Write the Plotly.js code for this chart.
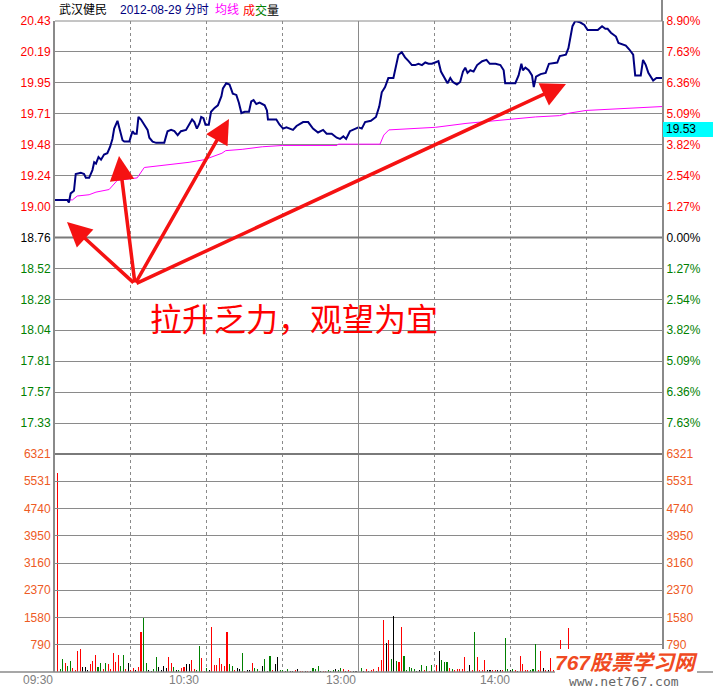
<!DOCTYPE html>
<html>
<head>
<meta charset="utf-8">
<script src="https://cdn.plot.ly/plotly-3.0.1.min.js"></script>
<style>html,body{margin:0;padding:0;background:#fff}#chart{width:713px;height:690px}</style>
</head>
<body>
<div id="chart"></div>
<script>
// ---------------- data ----------------
const stockName = '武汉健民';
const dateLabel = '2012-08-29 分时';
const prevClose = 18.76;
const priceTop = 20.43;
const volMax = 6321;

const priceTimes = [0,4.9,5.5,6.2,7.5,8.2,10.2,11.5,12.2,13.5,14.8,15.5,16.2,17.2,18.2,19.4,20.7,21.8,22.7,23.4,24.7,25.6,26.7,27.4,29.4,30,30.7,31.4,32.3,33,34,35.3,36.6,37.3,38.6,40,43.2,43.9,44.5,45.9,47.2,48.5,49.8,51.8,53.1,54.2,55.1,56.1,57.1,57.8,58.7,59.5,60.8,61.7,63.1,64.4,65.8,66.4,67.7,69,70.3,71.7,72.7,73.7,75,76.7,77.6,78.5,79.6,80.9,82.9,83.8,84.2,87.5,88.8,90.2,91.5,94.1,95.5,98.1,100.1,102,104,106,107.4,109.4,111.4,112.7,114,115.1,116.6,118.6,120,121.3,122.6,124.9,126.9,128.2,129.2,130.5,131.8,133.8,134.9,135.8,137.1,138.4,139.8,141.1,142.4,143.7,145.1,146.4,147.7,149,150.3,151.6,152.6,153.9,155.2,156.3,157.3,158.9,160.2,161.3,162.2,163.1,164.2,165.5,166.9,168.9,170.6,171.9,174.2,176.1,177.4,178,182,183.3,184.4,185,186,187.3,188.6,189.3,190.2,192,194,195.3,198.6,199.6,202,203,203.7,204.6,205.7,207.6,209.3,210.6,214.6,216.3,217.6,218.5,219.8,221.8,222.8,225.7,227.1,228.6,229.4,231.6,232.5,233.6,234.6,236.5,237.8,240];
const prices = [19.05,19.05,19.03,19.10,19.12,19.25,19.26,19.25,19.22,19.22,19.28,19.34,19.33,19.38,19.36,19.40,19.41,19.46,19.52,19.60,19.66,19.59,19.51,19.50,19.50,19.54,19.58,19.56,19.56,19.69,19.67,19.63,19.59,19.53,19.50,19.49,19.49,19.54,19.58,19.59,19.58,19.55,19.58,19.59,19.64,19.67,19.65,19.60,19.64,19.69,19.68,19.63,19.63,19.73,19.76,19.78,19.85,19.91,19.95,19.94,19.87,19.86,19.80,19.72,19.73,19.73,19.81,19.82,19.79,19.80,19.78,19.74,19.67,19.67,19.63,19.60,19.61,19.59,19.62,19.65,19.65,19.60,19.57,19.59,19.56,19.56,19.53,19.52,19.54,19.52,19.58,19.60,19.61,19.60,19.65,19.66,19.69,19.77,19.88,19.92,19.99,19.99,20.08,20.17,20.19,20.15,20.12,20.09,20.09,20.10,20.09,20.11,20.10,20.10,20.11,20.12,20.04,20.00,19.95,19.99,19.96,19.94,19.96,20.04,20.07,20.03,20.05,20.04,20.09,20.12,20.13,20.10,20.10,20.09,20.05,19.95,19.95,20.01,20.10,20.05,20.07,20.05,20.01,19.92,20.00,20.02,20.03,20.10,20.11,20.16,20.17,20.22,20.31,20.39,20.43,20.42,20.40,20.36,20.36,20.39,20.37,20.37,20.34,20.31,20.26,20.24,20.21,20.17,20.01,20.01,20.13,20.09,20.03,19.97,19.99,19.99];

const avgTimes = [0,6.9,8.8,13.5,16.2,21.4,24.6,27.9,32.5,35.3,39.8,45,53,59,62,66,67.5,74,82,90,111.5,112,128.5,130,132,139.8,150.5,162.5,179.6,190,199.5,203.5,210,219.3,240];
const avgPrices = [19.05,19.05,19.08,19.09,19.11,19.13,19.20,19.21,19.22,19.30,19.31,19.32,19.34,19.36,19.38,19.41,19.43,19.44,19.46,19.47,19.47,19.48,19.48,19.55,19.59,19.60,19.61,19.64,19.67,19.69,19.70,19.72,19.74,19.75,19.77];

const volumes = [
 5780,87,377,261,174,319,116,58,609,667,
 145,145,68,232,319,493,145,261,78,261,
 232,100,561,290,493,174,493,87,271,58,
 116,58,145,1160,1576,261,58,39,87,435,
 155,58,174,116,435,261,145,58,58,116,
 145,232,232,348,87,58,754,406,29,106,
 58,1305,203,203,406,232,174,1160,232,174,
 58,116,87,561,29,58,58,261,116,87,
 29,174,377,29,464,58,232,435,58,58,
 29,87,29,29,58,87,29,29,29,29,
 29,116,87,174,29,29,29,58,29,58,
 87,58,116,87,29,58,29,29,29,29,
 116,29,87,29,58,77,29,145,348,1508,
 850,928,377,1624,319,300,1315,464,58,145,
 116,87,29,58,203,58,174,29,203,29,
 203,609,348,300,300,116,87,58,87,87,
 87,445,29,203,58,1160,445,58,58,348,
 58,58,58,58,58,58,58,986,78,58,
 87,58,29,464,232,58,58,58,87,812,
 58,609,116,58,58,406,58,58,100,928,
 150,100,1276,638,150,200,120,90,180,60,
 120,200,90,150,60,240,110,80,170,60,
 140,90,200,120,60,180,150,80,230,120,
 90,160,60,210,110,80,140,60,190,240];
const volDirections = (
 'rggrggrrrr'+'kkkrrrggrg'+'rrrrrggrkr'+'rkrrggkkgg'+'kkkkrrgkgr'+'rkkrrggrrg'+
 'krrrrrrrgg'+'rkkgrkkrgg'+'rkgkgrkkgg'+'kgkkrkrrkr'+'kgggkrrgkg'+'kggrkrrkkr'+
 'gkrkrrkrrr'+'krgkgrrggg'+'ggkkgrgrgk'+'rkgggrgrrr'+'rrgkrgrrrr'+'kkrrkkrggk'+
 'grkrrrrggg'+'rrkrkrrkrr'+'rrrrgrgrrg'+'rgrgkrgrgk'+'grrgkrgrgr'+'grkrgrgkrr').split('');

const priceTickLabels = ['17.33','17.57','17.81','18.04','18.28','18.52','18.76','19.00','19.24','19.48','19.71','19.95','20.19','20.43'];
const pctTickLabels = ['7.63%','6.36%','5.09%','3.82%','2.54%','1.27%','0.00%','1.27%','2.54%','3.82%','5.09%','6.36%','7.63%','8.90%'];
const volTickLabels = ['790','1580','2370','3160','3950','4740','5531','6321'];
const timeLabels = ['09:30','10:30','13:00','14:00'];
const lastPriceLabel = '19.53';
const noteText = '拉升乏力，观望为宜';

// ---------------- layout helpers ----------------
const W = 713, H = 690, L = 55, R = 51, T = 21, B = 18;
const plotW = W - L - R, plotH = H - T - B;
const px = x => (x - L) / plotW;
const py = y => (H - B - y) / plotH;
const split = 218 / plotH;

const RED = '#FF0000', GREEN = '#008000', BLACK = '#000000', VOLC = '#EE5A24', GRID = '#8a8a8a';
const step = (priceTop - prevClose) / 7;
const pLo = prevClose - 7 * step, pHi = prevClose + 7 * step;
const priceTickVals = priceTickLabels.map((_, i) => prevClose + (i - 6) * step);
const tickColor = i => i < 6 ? GREEN : (i === 6 ? BLACK : RED);
const col = (t, c) => '<span style="color:' + c + '">' + t + '</span>';
const volTickVals = volTickLabels.map((_, i) => (i + 1) * volMax / 8);
const dirColor = {r: RED, g: GREEN, k: BLACK};

const tf = {family: 'Liberation Sans, Arial, sans-serif', size: 12};

const traces = [
  {x: avgTimes, y: avgPrices, type: 'scatter', mode: 'lines', xaxis: 'x', yaxis: 'y',
   line: {color: '#FF00FF', width: 1}, hoverinfo: 'skip'},
  {x: priceTimes, y: prices, type: 'scatter', mode: 'lines', xaxis: 'x', yaxis: 'y',
   line: {color: '#000080', width: 2}, hoverinfo: 'skip'},
  {x: volumes.map((_, i) => i + 1), y: volumes, type: 'bar', xaxis: 'x', yaxis: 'y2',
   width: 0.42, marker: {color: volDirections.map(d => dirColor[d]), line: {width: 0}}, hoverinfo: 'skip'},
  {x: [120], y: [prevClose], type: 'scatter', mode: 'markers', xaxis: 'x', yaxis: 'y3',
   marker: {opacity: 0}, hoverinfo: 'skip'},
  {x: [120], y: [1], type: 'scatter', mode: 'markers', xaxis: 'x', yaxis: 'y4',
   marker: {opacity: 0}, hoverinfo: 'skip'}
];

const baseY = {
  showgrid: true, gridcolor: GRID, gridwidth: 1, zeroline: false,
  showline: true, linecolor: GRID, linewidth: 2, mirror: false,
  ticks: 'inside', ticklen: 4, tickcolor: GRID, tickwidth: 1,
  tickfont: tf, tickmode: 'array', fixedrange: true
};

const layout = {
  width: W, height: H, autosize: false,
  margin: {l: L, r: R, t: T, b: B, pad: 0},
  paper_bgcolor: '#ffffff', plot_bgcolor: '#ffffff',
  showlegend: false, bargap: 0,
  xaxis: {range: [0, 240], tickmode: 'array', tickvals: [30, 60, 90, 150, 180, 210],
    showticklabels: false, ticks: '', showgrid: true, gridcolor: GRID, griddash: 'dot', gridwidth: 1,
    zeroline: false, showline: false, fixedrange: true, anchor: 'y2'},
  yaxis: Object.assign({}, baseY, {domain: [split, 1], range: [pLo, pHi], tickvals: priceTickVals,
    ticktext: priceTickLabels.map((t, i) => col(t, tickColor(i))), anchor: 'x'}),
  yaxis3: Object.assign({}, baseY, {overlaying: 'y', side: 'right', range: [pLo, pHi], showgrid: false,
    tickvals: priceTickVals, ticktext: pctTickLabels.map((t, i) => col(t, tickColor(i))), anchor: 'x'}),
  yaxis2: Object.assign({}, baseY, {domain: [0, split], range: [0, volMax], tickvals: volTickVals,
    ticktext: volTickLabels.map(t => col(t, VOLC)), anchor: 'x'}),
  yaxis4: Object.assign({}, baseY, {overlaying: 'y2', side: 'right', range: [0, volMax], showgrid: false,
    tickvals: volTickVals, ticktext: volTickLabels.map(t => col(t, VOLC)), anchor: 'x'}),
  shapes: [
    {type: 'line', xref: 'x', yref: 'paper', x0: 120, x1: 120, y0: 0, y1: 1, line: {color: GRID, width: 1}},
    {type: 'line', xref: 'paper', yref: 'y', x0: 0, x1: 1, y0: prevClose, y1: prevClose, line: {color: '#7a7a7a', width: 2}},
    {type: 'line', xref: 'paper', yref: 'paper', x0: 0, x1: 1, y0: split, y1: split, line: {color: '#7a7a7a', width: 2}},
    {type: 'line', xref: 'paper', yref: 'paper', x0: 0, x1: 1, y0: 1, y1: 1, line: {color: GRID, width: 1}},
    {type: 'line', xref: 'paper', yref: 'paper', x0: px(662), x1: px(662), y0: 1, y1: py(0), line: {color: GRID, width: 2}},
    {type: 'line', xref: 'paper', yref: 'paper', x0: px(0), x1: px(713), y0: 0, y1: 0, line: {color: GRID, width: 1.5}},
    {type: 'rect', xref: 'paper', yref: 'paper', x0: px(663), x1: px(713), y0: py(137), y1: py(122),
     fillcolor: '#00FFFF', line: {width: 0}},
    {type: 'rect', xref: 'paper', yref: 'paper', layer: 'above', x0: px(555), x1: px(697), y0: py(690), y1: py(649),
     fillcolor: '#ffffff', line: {width: 0}}
  ],
  annotations: []
};

const A = layout.annotations;
const hdrFont = {family: 'Liberation Sans, Noto Sans CJK SC, sans-serif', size: 12};
const addText = (text, x, y, xanchor, font) => A.push({text, x: px(x), y: py(y), xref: 'paper', yref: 'paper',
  xanchor, yanchor: 'middle', showarrow: false, font, align: 'left'});

addText(col(stockName, BLACK), 57, 10, 'left', hdrFont);
addText(col(dateLabel, '#000080'), 118, 10, 'left', hdrFont);
addText(col('均线', '#FF00FF'), 213, 10, 'left', hdrFont);
addText(col('成', RED) + col('交', GREEN) + col('量', BLACK), 241, 10, 'left', hdrFont);

const timeRight = [55, 201, 358, 512];
timeLabels.forEach((t, i) => addText(col(t, '#808080'), timeRight[i], 680, 'right', tf));

addText(col(lastPriceLabel, BLACK), 664, 129.5, 'left', tf);

addText(col(noteText, RED), 294, 317, 'center', {family: 'Noto Sans CJK SC, sans-serif', size: 32});

// arrows from a common tail
const tail = [135, 284];
const tips = [[67, 222], [119, 156], [229, 119], [566, 84]];
tips.forEach(([x, y]) => A.push({text: '', x: px(x), y: py(y), xref: 'paper', yref: 'paper',
  showarrow: true, ax: tail[0] - x, ay: tail[1] - y, arrowcolor: '#F51212', arrowwidth: 3.5,
  arrowhead: 2, arrowsize: 1.4, standoff: 0, startstandoff: 0}));

// watermark
addText('<b><i>767股票学习网</i></b>', 626, 662, 'center', {family: 'Liberation Sans, Noto Sans CJK SC, sans-serif', size: 21, color: '#F04A22'});
addText('www.net767.com', 624, 681, 'center', {family: 'DejaVu Sans Mono, monospace', size: 13, color: '#666666'});

Plotly.newPlot('chart', traces, layout, {displayModeBar: false, staticPlot: true});
</script>
</body>
</html>
